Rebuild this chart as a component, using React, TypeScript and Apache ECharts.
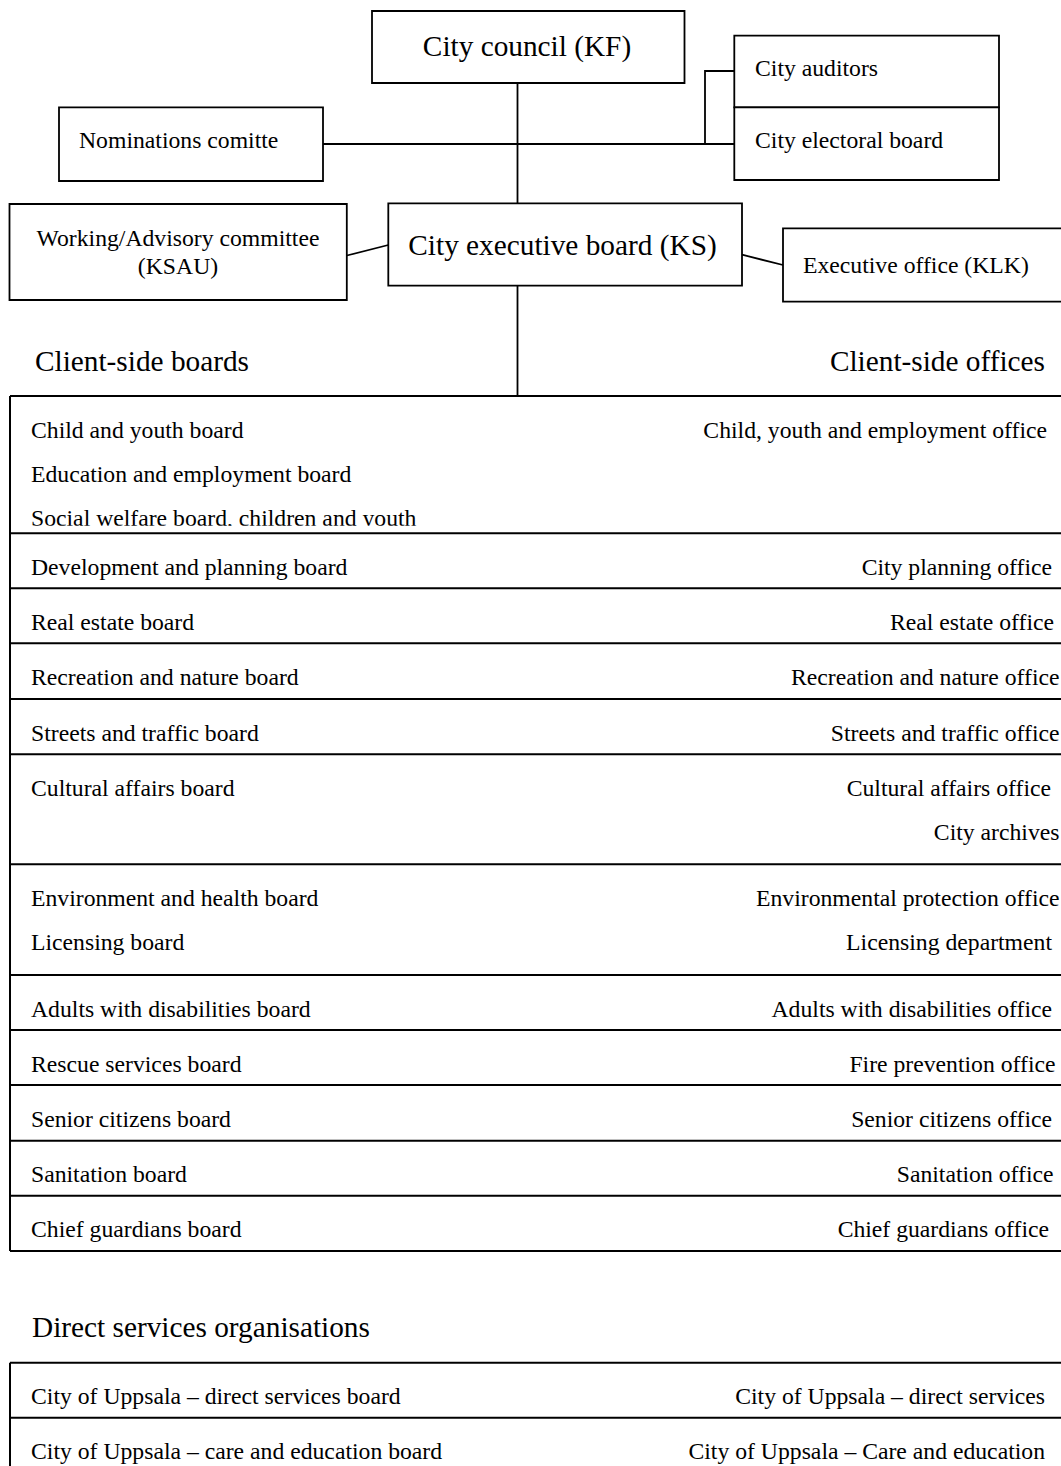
import React, { useEffect, useRef } from "react";
import * as echarts from "echarts";

// ---------- DATA (texts only) ----------
const councilTitle = "City council (KF)";
const executiveBoardTitle = "City executive board (KS)";
const nominationsTitle = "Nominations comitte";
const auditorsTitle = "City auditors";
const electoralTitle = "City electoral board";
const advisoryTitleLines = ["Working/Advisory committee", "(KSAU)"];
const executiveOfficeTitle = "Executive office (KLK)";
const clientBoardsHeading = "Client-side boards";
const clientOfficesHeading = "Client-side offices";

const boardGroups: string[][] = [
  ["Child and youth board", "Education and employment board", "Social welfare board, children and youth"],
  ["Development and planning board"],
  ["Real estate board"],
  ["Recreation and nature board"],
  ["Streets and traffic board"],
  ["Cultural affairs board"],
  ["Environment and health board", "Licensing board"],
  ["Adults with disabilities board"],
  ["Rescue services board"],
  ["Senior citizens board"],
  ["Sanitation board"],
  ["Chief guardians board"],
];

const officeGroups: string[][] = [
  ["Child, youth and employment office"],
  ["City planning office"],
  ["Real estate office"],
  ["Recreation and nature office"],
  ["Streets and traffic office"],
  ["Cultural affairs office", "City archives"],
  ["Environmental protection office", "Licensing department"],
  ["Adults with disabilities office"],
  ["Fire prevention office"],
  ["Senior citizens office"],
  ["Sanitation office"],
  ["Chief guardians office"],
];

const directHeading = "Direct services organisations";
const directBoards = ["City of Uppsala – direct services board", "City of Uppsala – care and education board"];
const directOffices = ["City of Uppsala – direct services", "City of Uppsala – Care and education"];

// ---------- LAYOUT / STYLE ----------
const W = 1061;
const H = 1466;
const FONT = '"Liberation Serif", "Times New Roman", Times, serif';
const BODY = 23.7;
const HEAD = 29.3;
const INK = "#000";
const BOX_LW = 1.8;
const RULE_LW = 2;
const groupHeights = [137.3, 55, 55, 55.7, 55.3, 110, 110.7, 55, 55, 55.7, 55, 55.3];
// right edge (tab stop) of each office line, per group
const officeRightEdges: number[][] = [
  [1047], [1052], [1054], [1059.5], [1059.5], [1051, 1059.5], [1059.5, 1052], [1052], [1055.5], [1052], [1053.5], [1049],
];
const TABLE_TOP = 396;
const TABLE_LEFT = 10;
const FIRST_LINE_OFFSET = 33.5;
const LINE_STEP = 44;
const LEFT_TEXT_X = 31;

function txt(text: string, x: number, y: number, size: number, align: string = "left") {
  return {
    type: "text",
    x,
    y,
    z: 3,
    silent: true,
    style: {
      text,
      fill: INK,
      fontSize: size,
      fontFamily: FONT,
      align,
      verticalAlign: "middle",
    },
  };
}

function box(x: number, y: number, w: number, h: number) {
  return {
    type: "rect",
    z: 2,
    silent: true,
    shape: { x, y, width: w, height: h },
    style: { fill: "#fff", stroke: INK, lineWidth: BOX_LW },
  };
}

function line(x1: number, y1: number, x2: number, y2: number, lw: number = BOX_LW) {
  return {
    type: "line",
    z: 1,
    silent: true,
    shape: { x1, y1, x2, y2 },
    style: { stroke: INK, lineWidth: lw },
  };
}

function buildElements() {
  const els: any[] = [];

  // Top hierarchy connectors
  els.push(line(517.5, 83, 517.5, 203.3));
  els.push(line(517.5, 285.7, 517.5, TABLE_TOP));
  els.push(line(323, 144, 734, 144));
  els.push({
    type: "polyline",
    z: 1,
    silent: true,
    shape: { points: [[705, 144], [705, 71], [734.3, 71]] },
    style: { stroke: INK, lineWidth: BOX_LW, fill: "none" },
  });
  els.push(line(346.8, 255.5, 388.3, 245));
  els.push(line(742, 254.7, 783, 265));

  // Boxes
  els.push(box(372, 11, 312.5, 72));
  els.push(box(734.3, 35.7, 264.7, 71.6));
  els.push(box(734.3, 107.3, 264.7, 72.7));
  els.push(box(59, 107.3, 264, 73.7));
  els.push(box(9.5, 204, 337.3, 96));
  els.push(box(388.3, 203.3, 353.7, 82.4));
  els.push(box(783, 228.3, 300, 73.4));

  // Box texts
  els.push(txt(councilTitle, 527, 46, HEAD, "center"));
  els.push(txt(auditorsTitle, 755, 68, BODY));
  els.push(txt(electoralTitle, 755, 140, BODY));
  els.push(txt(nominationsTitle, 79, 140, BODY));
  advisoryTitleLines.forEach((t, i) => els.push(txt(t, 178, 238 + i * 28, BODY, "center")));
  els.push(txt(executiveBoardTitle, 562.5, 245, HEAD, "center"));
  els.push(txt(executiveOfficeTitle, 803, 265, BODY));

  // Headings
  els.push(txt(clientBoardsHeading, 35, 361, HEAD));
  els.push(txt(clientOfficesHeading, 1045, 361, HEAD, "right"));

  // Client-side table
  let top = TABLE_TOP;
  els.push(line(TABLE_LEFT, top, W, top, RULE_LW));
  boardGroups.forEach((boards, gi) => {
    const offices = officeGroups[gi] || [];
    boards.forEach((b, li) => {
      els.push(txt(b, LEFT_TEXT_X, top + FIRST_LINE_OFFSET + li * LINE_STEP, BODY));
    });
    offices.forEach((o, li) => {
      const rx = (officeRightEdges[gi] && officeRightEdges[gi][li]) || 1053;
      els.push(txt(o, rx, top + FIRST_LINE_OFFSET + li * LINE_STEP, BODY, "right"));
    });
    const bottom = top + groupHeights[gi];
    els.push(line(TABLE_LEFT, bottom, W, bottom, RULE_LW));
    if (gi === 0) {
      // the first cell is cut off just below the last line's baseline
      const lastY = top + FIRST_LINE_OFFSET + (boards.length - 1) * LINE_STEP;
      els.push({
        type: "rect",
        z: 4,
        silent: true,
        shape: { x: TABLE_LEFT + 5, y: lastY + 8.3, width: 700, height: bottom - lastY - 9.6 },
        style: { fill: "#fff" },
      });
    }
    top = bottom;
  });
  els.push(line(TABLE_LEFT, TABLE_TOP, TABLE_LEFT, top, RULE_LW));

  // Direct services
  els.push(txt(directHeading, 32, 1327, HEAD));
  const dTop = 1362.7;
  els.push(line(TABLE_LEFT, dTop, W, dTop, RULE_LW));
  directBoards.forEach((b, i) => {
    const rowTop = dTop + i * 55;
    els.push(txt(b, LEFT_TEXT_X, rowTop + FIRST_LINE_OFFSET, BODY));
    els.push(txt(directOffices[i], 1045, rowTop + FIRST_LINE_OFFSET, BODY, "right"));
    if (i < directBoards.length - 1) {
      els.push(line(TABLE_LEFT, rowTop + 55, W, rowTop + 55, RULE_LW));
    }
  });
  els.push(line(TABLE_LEFT, dTop, TABLE_LEFT, H + 5, RULE_LW));

  return els;
}

export default function App() {
  const ref = useRef<HTMLDivElement>(null);
  useEffect(() => {
    if (!ref.current) return;
    const chart = echarts.init(ref.current, undefined, { renderer: "svg" });
    chart.setOption({
      animation: false,
      backgroundColor: "#fff",
      graphic: { elements: buildElements() },
    });
    return () => chart.dispose();
  }, []);
  return (
    <div
      ref={ref}
      style={{ position: "absolute", left: 0, top: 0, width: W, height: H, background: "#fff" }}
    />
  );
}
